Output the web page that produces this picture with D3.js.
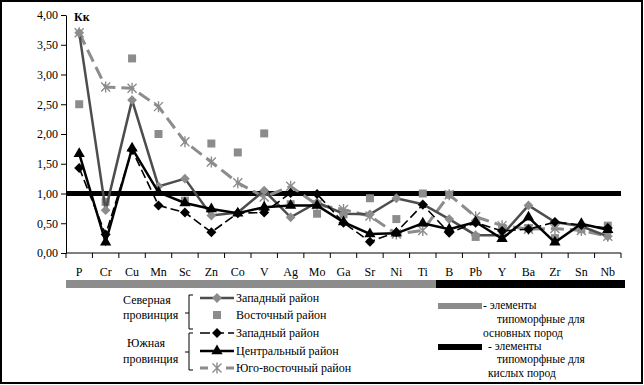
<!DOCTYPE html>
<html><head><meta charset="utf-8">
<script src="https://cdn.jsdelivr.net/npm/d3@7"></script>
<style>
body{margin:0;background:#fff;}
</style></head>
<body>
<svg id="c" width="644" height="385"></svg>
<script>
const categories = ["P","Cr","Cu","Mn","Sc","Zn","Co","V","Ag","Mo","Ga","Sr","Ni","Ti","B","Pb","Y","Ba","Zr","Sn","Nb"];
const northWest   = [3.70,0.72,2.57,1.12,1.25,0.63,0.68,1.05,0.60,0.85,0.66,0.65,0.92,0.82,0.57,0.30,0.30,0.80,0.52,0.45,0.28];
const northEast   = [2.50,0.86,3.27,2.00,0.88,1.84,1.69,2.01,0.82,0.66,0.65,0.92,0.57,1.00,0.98,0.27,0.42,0.42,0.25,0.40,0.46];
const southWest   = [1.43,0.31,1.73,0.80,0.68,0.35,0.67,0.68,1.01,0.99,0.51,0.19,0.35,0.81,0.34,0.51,0.37,0.40,0.52,0.47,0.42];
const southCentral= [1.67,0.18,1.76,1.02,0.84,0.74,0.67,0.77,0.80,0.80,0.52,0.32,0.33,0.50,0.40,0.52,0.24,0.60,0.18,0.49,0.39];
const southEast   = [3.70,2.79,2.77,2.46,1.87,1.53,1.18,0.94,1.12,0.81,0.73,0.62,0.32,0.38,0.98,0.61,0.46,0.40,0.41,0.38,0.28];
const yTicks = [0,0.5,1,1.5,2,2.5,3,3.5,4];
const baseLevel = 1.0;
const basicGroup = ["P","Cr","Cu","Mn","Sc","Zn","Co","V","Ag","Mo","Ga","Sr","Ni","Ti"];
const acidGroup = ["B","Pb","Y","Ba","Zr","Sn","Nb"];
const legendNames = ["Западный район","Восточный район","Западный район","Центральный район","Юго-восточный район"];

const FONT = '"Liberation Serif","Times New Roman",serif';
const FS = 12;
const svg = d3.select("#c");
const L=66, R=621, T=15, B=253;
const x = d3.scaleBand().domain(categories).range([L,R]);
const y = d3.scaleLinear().domain([0,4]).range([B,T]);
const cx = c => x(c)+x.bandwidth()/2;

svg.append("rect").attr("x",1).attr("y",1).attr("width",641).attr("height",382)
  .attr("fill","none").attr("stroke","#000").attr("stroke-width",2);

const yAx = svg.append("g").attr("transform",`translate(${L},0)`)
  .call(d3.axisLeft(y).tickValues(yTicks).tickSize(5).tickSizeOuter(0)
    .tickFormat(d=>d3.format(".2f")(d).replace(".",",")));
yAx.attr("font-family",FONT);
yAx.select(".domain").attr("stroke","#000").attr("stroke-width",1);
yAx.selectAll("text").attr("font-size",FS).attr("font-family",FONT).attr("fill","#000").attr("x",-8);

svg.append("line").attr("x1",L).attr("x2",R).attr("y1",B).attr("y2",B).attr("stroke","#000");
const bounds = categories.map(c=>x(c)).concat([R]);
svg.selectAll(".xt").data(bounds).join("line").attr("x1",d=>d).attr("x2",d=>d)
  .attr("y1",B).attr("y2",B+5).attr("stroke","#000");
svg.selectAll(".xl").data(categories).join("text").attr("x",d=>cx(d)).attr("y",276)
  .attr("text-anchor","middle").attr("font-size",FS).attr("font-family",FONT).text(d=>d);

svg.append("text").attr("x",74).attr("y",21).attr("font-size",FS).attr("font-family",FONT).attr("font-weight","bold").text("Кк");

svg.append("rect").attr("x",x(basicGroup[0])).attr("y",280)
  .attr("width",x(basicGroup[basicGroup.length-1])+x.bandwidth()-x(basicGroup[0])).attr("height",8).attr("fill","#8c8c8c");
svg.append("rect").attr("x",x(acidGroup[0])).attr("y",280)
  .attr("width",x(acidGroup[acidGroup.length-1])+x.bandwidth()-x(acidGroup[0])+4).attr("height",8).attr("fill","#000");

svg.append("line").attr("x1",L).attr("x2",R).attr("y1",y(baseLevel)).attr("y2",y(baseLevel))
  .attr("stroke","#000").attr("stroke-width",5);

const line = d3.line().x((d,i)=>cx(categories[i])).y(d=>y(d));
const GRAY="#8c8c8c", DARK="#4d4d4d";

function asterisk(g,px,py,col){
  const r=4.5;
  g.append("path").attr("d",`M${px-r},${py-r}L${px+r},${py+r}M${px-r},${py+r}L${px+r},${py-r}M${px},${py-r-1}L${px},${py+r+1}`)
    .attr("stroke",col).attr("stroke-width",1.4).attr("fill","none");
}
const tri = d3.symbol(d3.symbolTriangle, 55);
const sq = d3.symbol(d3.symbolSquare, 64);

svg.append("path").attr("d",line(southEast)).attr("fill","none").attr("stroke",GRAY)
  .attr("stroke-width",3).attr("stroke-dasharray","13,6");
const gSE = svg.append("g");
southEast.forEach((v,i)=>asterisk(gSE,cx(categories[i]),y(v),GRAY));

svg.selectAll(".ne").data(northEast).join("path")
  .attr("transform",(d,i)=>`translate(${cx(categories[i])},${y(d)})`).attr("d",sq()).attr("fill",GRAY);

svg.append("path").attr("d",line(northWest)).attr("fill","none").attr("stroke",DARK).attr("stroke-width",2.5);
svg.selectAll(".nw").data(northWest).join("path")
  .attr("transform",(d,i)=>`translate(${cx(categories[i])},${y(d)}) rotate(45)`)
  .attr("d",d3.symbol(d3.symbolSquare,48)()).attr("fill",GRAY);

svg.append("path").attr("d",line(southWest)).attr("fill","none").attr("stroke","#000")
  .attr("stroke-width",1.6).attr("stroke-dasharray","9,4");
svg.selectAll(".sw").data(southWest).join("path")
  .attr("transform",(d,i)=>`translate(${cx(categories[i])},${y(d)}) rotate(45)`)
  .attr("d",d3.symbol(d3.symbolSquare,50)()).attr("fill","#000");

svg.append("path").attr("d",line(southCentral)).attr("fill","none").attr("stroke","#000").attr("stroke-width",2.5);
svg.selectAll(".sc").data(southCentral).join("path")
  .attr("transform",(d,i)=>`translate(${cx(categories[i])},${y(d)})`).attr("d",tri()).attr("fill","#000");

const lg = svg.append("g").attr("font-size",FS).attr("font-family",FONT);
lg.append("text").attr("x",123).attr("y",304).text("Северная");
lg.append("text").attr("x",123).attr("y",319).text("провинция");
lg.append("text").attr("x",127).attr("y",347).text("Южная");
lg.append("text").attr("x",123).attr("y",363).text("провинция");
function bracket(y1,y2,ym){
  lg.append("path").attr("d",`M193,${y1}L189,${y1}L189,${y2}L193,${y2}M189,${ym}L185,${ym}`)
    .attr("fill","none").attr("stroke","#000").attr("stroke-width",1);
}
bracket(295,329,313);
bracket(333,370,352);
const rows=[298,315,333,351,368];
lg.append("line").attr("x1",200).attr("x2",234).attr("y1",rows[0]).attr("y2",rows[0]).attr("stroke",DARK).attr("stroke-width",2.5);
lg.append("path").attr("transform",`translate(217,${rows[0]}) rotate(45)`).attr("d",d3.symbol(d3.symbolSquare,48)()).attr("fill",GRAY);
lg.append("path").attr("transform",`translate(217,${rows[1]})`).attr("d",sq()).attr("fill",GRAY);
lg.append("line").attr("x1",200).attr("x2",234).attr("y1",rows[2]).attr("y2",rows[2]).attr("stroke","#000").attr("stroke-width",1.6).attr("stroke-dasharray","10,4");
lg.append("path").attr("transform",`translate(217,${rows[2]}) rotate(45)`).attr("d",d3.symbol(d3.symbolSquare,50)()).attr("fill","#000");
lg.append("line").attr("x1",200).attr("x2",234).attr("y1",rows[3]).attr("y2",rows[3]).attr("stroke","#000").attr("stroke-width",2.5);
lg.append("path").attr("transform",`translate(217,${rows[3]})`).attr("d",tri()).attr("fill","#000");
lg.append("line").attr("x1",200).attr("x2",234).attr("y1",rows[4]).attr("y2",rows[4]).attr("stroke",GRAY).attr("stroke-width",3).attr("stroke-dasharray","8,18");
asterisk(lg,217,rows[4],GRAY);
legendNames.forEach((n,i)=>lg.append("text").attr("x",236).attr("y",rows[i]+4).text(n));

const rg = svg.append("g").attr("font-size",11.5).attr("font-family",FONT);
rg.append("rect").attr("x",438).attr("y",303).attr("width",44).attr("height",6).attr("fill",GRAY);
rg.append("text").attr("x",483).attr("y",309).text("-  элементы");
rg.append("text").attr("x",497).attr("y",323).text("типоморфные для");
rg.append("text").attr("x",483).attr("y",337).text("основных пород");
rg.append("rect").attr("x",438).attr("y",344).attr("width",44).attr("height",6).attr("fill","#000");
rg.append("text").attr("x",488).attr("y",350).text("-  элементы");
rg.append("text").attr("x",497).attr("y",363).text("типоморфные для");
rg.append("text").attr("x",488).attr("y",377).text("кислых пород");
</script>
</body></html>
